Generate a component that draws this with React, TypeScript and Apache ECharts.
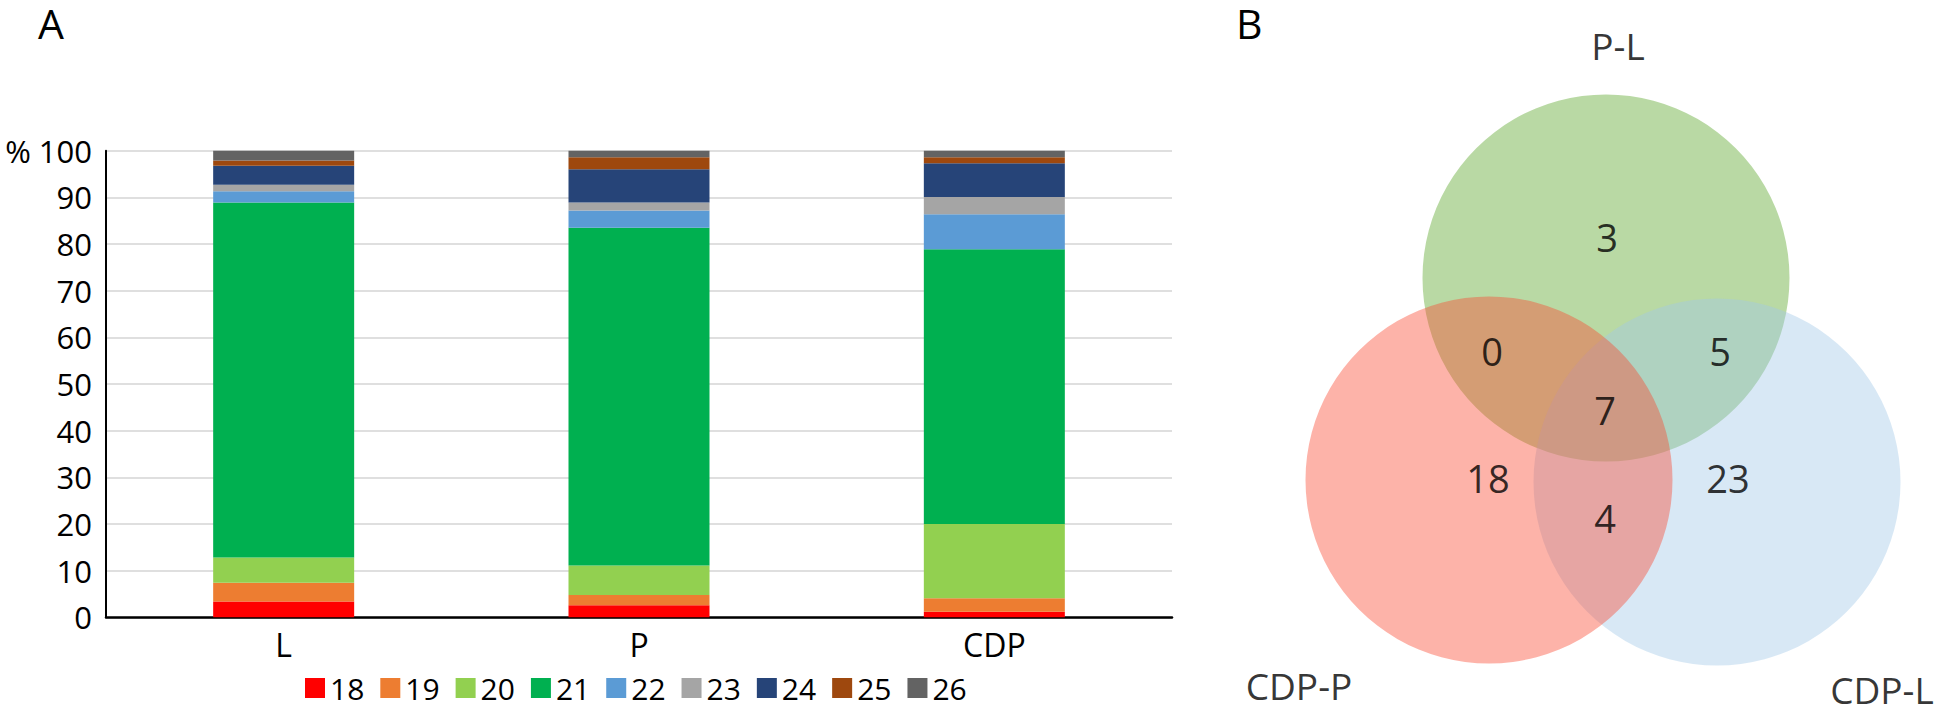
import React, { useEffect, useRef } from "react";
import * as echarts from "echarts";

// ---- Panel A data ----
const categories = ["L", "P", "CDP"];
const lengthLabels = ["18", "19", "20", "21", "22", "23", "24", "25", "26"];
const s18 = [3.4, 2.6, 1.2];
const s19 = [4.0, 2.2, 2.9];
const s20 = [5.4, 6.3, 15.9];
const s21 = [76.1, 72.4, 58.9];
const s22 = [2.4, 3.7, 7.5];
const s23 = [1.4, 1.7, 3.7];
const s24 = [4.1, 7.1, 7.2];
const s25 = [1.1, 2.6, 1.3];
const s26 = [2.1, 1.4, 1.4];
const seriesValues = [s18, s19, s20, s21, s22, s23, s24, s25, s26];
const seriesColors = ["#ff0000", "#ed7d31", "#92d050", "#00b050", "#5b9bd5", "#a5a5a5", "#264478", "#9e480e", "#636363"];
const yTicks = [0, 10, 20, 30, 40, 50, 60, 70, 80, 90, 100];

// ---- Panel B data ----
const vennSets = ["P-L", "CDP-L", "CDP-P"];
const vennCounts = { onlyPL: 3, PL_CDPP: 0, PL_CDPL: 5, all: 7, onlyCDPP: 18, onlyCDPL: 23, CDPP_CDPL: 4 };

const FONT = "'Open Sans', sans-serif";

export default function App() {
  const ref = useRef<HTMLDivElement>(null);
  useEffect(() => {
    if (!ref.current) return;
    const chart = echarts.init(ref.current, null, { renderer: "svg" });

    // Venn layout in pixel-like coordinates of the hidden grid
    const circleLayout = [
      { name: vennSets[0], c: [1606, 278], color: "rgba(168,208,141,1)" },
      { name: vennSets[1], c: [1717, 482], color: "rgba(164,200,232,0.53)" },
      { name: vennSets[2], c: [1489, 480], color: "rgba(249,72,49,0.52)" },
    ];
    const countLayout = [
      { v: vennCounts.onlyPL, c: [1607, 237] },
      { v: vennCounts.PL_CDPP, c: [1492, 351] },
      { v: vennCounts.PL_CDPL, c: [1720, 351] },
      { v: vennCounts.all, c: [1605, 410] },
      { v: vennCounts.onlyCDPP, c: [1488, 478] },
      { v: vennCounts.onlyCDPL, c: [1728, 478] },
      { v: vennCounts.CDPP_CDPL, c: [1605, 518] },
    ];
    const setLabelLayout = [
      { t: vennSets[0], c: [1618, 45] },
      { t: vennSets[2], c: [1299, 685] },
      { t: vennSets[1], c: [1882, 689] },
    ];

    const barSeries = seriesValues.map((vals, i) => ({
      name: lengthLabels[i],
      type: "bar",
      stack: "total",
      barWidth: 141,
      xAxisIndex: 0,
      yAxisIndex: 0,
      itemStyle: { color: seriesColors[i] },
      data: vals,
    }));

    const circleSeries = circleLayout.map((cl) => ({
      type: "scatter",
      xAxisIndex: 1,
      yAxisIndex: 1,
      symbol: "circle",
      symbolSize: 367,
      silent: true,
      itemStyle: { color: cl.color },
      data: [cl.c],
      z: 2,
    }));

    const labelSeries = (data: any[], size: number) => ({
      type: "scatter",
      xAxisIndex: 1,
      yAxisIndex: 1,
      symbolSize: 0,
      silent: true,
      z: 5,
      label: {
        show: true,
        position: "inside",
        formatter: (p: any) => String(p.value[2]),
        fontSize: size,
        color: "#000",
        fontFamily: FONT,
      },
      data,
    });

    const option: any = {
      animation: false,
      backgroundColor: "#ffffff",
      textStyle: { fontFamily: FONT },
      grid: [
        { left: 106, right: 772, top: 150.7, bottom: 93.7 },
        { left: 1200, top: 0, width: 744, height: 711 },
      ],
      xAxis: [
        {
          type: "category",
          gridIndex: 0,
          data: categories,
          axisLine: { lineStyle: { color: "#000", width: 2.5 } },
          axisTick: { show: false },
          axisLabel: { color: "#000", fontSize: 32, margin: 11, fontFamily: FONT },
        },
        { type: "value", gridIndex: 1, min: 1200, max: 1944, show: false },
      ],
      yAxis: [
        {
          type: "value",
          gridIndex: 0,
          min: 0,
          max: 100,
          interval: 10,
          axisLine: { show: true, lineStyle: { color: "#000", width: 2 } },
          axisTick: { show: false },
          splitLine: { lineStyle: { color: "#d4d4d4", width: 1.5 } },
          axisLabel: {
            color: "#000",
            fontSize: 31,
            margin: 14,
            fontFamily: FONT,
            customValues: yTicks,
            formatter: (v: number) => (v === 100 ? "% 100" : String(v)),
          },
        },
        { type: "value", gridIndex: 1, min: 0, max: 711, inverse: true, show: false },
      ],
      legend: {
        left: 300,
        top: 668,
        itemWidth: 20,
        itemHeight: 20,
        itemGap: 16,
        icon: "rect",
        textStyle: { fontSize: 30, color: "#000", fontFamily: FONT },
        data: lengthLabels,
      },
      series: [
        ...barSeries,
        ...circleSeries,
        labelSeries(countLayout.map((d) => [d.c[0], d.c[1], d.v]), 38),
        labelSeries(setLabelLayout.map((d) => [d.c[0], d.c[1], d.t]), 37),
      ],
      graphic: [
        { type: "text", left: 38, top: 2, style: { text: "A", fontSize: 41, lineHeight: 41, fill: "#000", fontFamily: FONT } },
        { type: "text", left: 1236, top: 2, style: { text: "B", fontSize: 41, lineHeight: 41, fill: "#000", fontFamily: FONT } },
      ],
    };
    chart.setOption(option);
    return () => chart.dispose();
  }, []);
  return (
    <div
      ref={ref}
      style={{ position: "fixed", left: 0, top: 0, width: 1944, height: 711, background: "#fff" }}
    />
  );
}
